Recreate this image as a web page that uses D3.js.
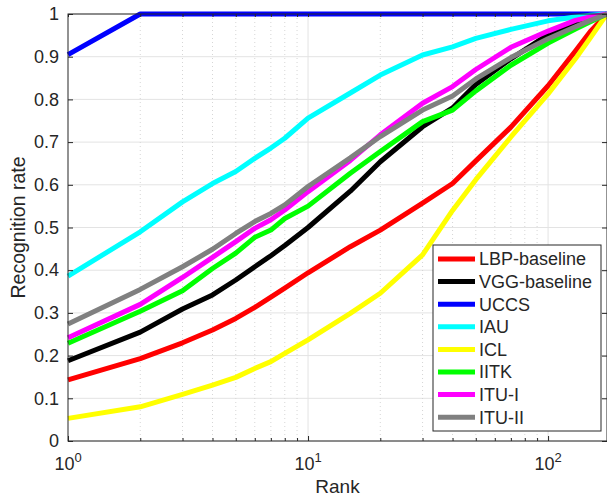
<!DOCTYPE html>
<html>
<head>
<meta charset="utf-8">
<script src="https://cdn.jsdelivr.net/npm/d3@7"></script>
<style>
  body { margin: 0; background: #fff; }
  text { font-family: "Liberation Sans", Arial, Helvetica, sans-serif; fill: #262626; }
</style>
</head>
<body>
<div id="chart"></div>
<script>
var ranks = [1, 2, 3, 4, 5, 6, 7, 8, 10, 15, 20, 30, 40, 50, 70, 100, 130, 150, 176];

var lbpBaseline = [0.143, 0.193, 0.230, 0.260, 0.287, 0.313, 0.337, 0.358, 0.394, 0.455, 0.494, 0.557, 0.603, 0.656, 0.735, 0.832, 0.913, 0.959, 1.0];
var vggBaseline = [0.188, 0.255, 0.309, 0.342, 0.377, 0.408, 0.434, 0.458, 0.500, 0.585, 0.654, 0.736, 0.780, 0.835, 0.895, 0.952, 0.978, 0.990, 1.0];
var uccs        = [0.905, 1.0, 1.0, 1.0, 1.0, 1.0, 1.0, 1.0, 1.0, 1.0, 1.0, 1.0, 1.0, 1.0, 1.0, 1.0, 1.0, 1.0, 1.0];
var iau         = [0.386, 0.490, 0.560, 0.603, 0.631, 0.662, 0.686, 0.709, 0.756, 0.815, 0.857, 0.904, 0.923, 0.943, 0.964, 0.984, 0.993, 0.997, 1.0];
var icl         = [0.053, 0.080, 0.109, 0.131, 0.149, 0.170, 0.186, 0.205, 0.237, 0.299, 0.346, 0.436, 0.540, 0.612, 0.712, 0.813, 0.895, 0.944, 1.0];
var iitk        = [0.229, 0.304, 0.352, 0.404, 0.440, 0.477, 0.494, 0.521, 0.550, 0.627, 0.678, 0.748, 0.775, 0.820, 0.880, 0.932, 0.965, 0.982, 1.0];
var ituI        = [0.242, 0.320, 0.383, 0.430, 0.467, 0.498, 0.518, 0.541, 0.584, 0.657, 0.717, 0.791, 0.830, 0.870, 0.922, 0.960, 0.985, 0.993, 1.0];
var ituII       = [0.274, 0.355, 0.408, 0.449, 0.486, 0.514, 0.533, 0.553, 0.596, 0.663, 0.713, 0.775, 0.808, 0.848, 0.898, 0.942, 0.970, 0.985, 1.0];

var seriesNames = ["LBP-baseline", "VGG-baseline", "UCCS", "IAU", "ICL", "IITK", "ITU-I", "ITU-II"];
var seriesValues = [lbpBaseline, vggBaseline, uccs, iau, icl, iitk, ituI, ituII];
var seriesColors = ["#ff0000", "#000000", "#0000ff", "#00ffff", "#ffff00", "#00ff00", "#ff00ff", "#808080"];

var yTicks = [0, 0.1, 0.2, 0.3, 0.4, 0.5, 0.6, 0.7, 0.8, 0.9, 1];
var xMajorTicks = [1, 10, 100];
var xMinorTicks = [2, 3, 4, 5, 6, 7, 8, 9, 20, 30, 40, 50, 60, 70, 80, 90];

var svgWidth = 607;
var svgHeight = 497;
var margin = { top: 14, bottom: 56, left: 68, right: 0 };
var width = svgWidth - margin.left - margin.right;
var height = svgHeight - margin.top - margin.bottom;

var svg = d3.select("#chart")
  .append("svg")
  .attr("width", svgWidth)
  .attr("height", svgHeight);

var chartGroup = svg.append("g")
  .attr("transform", `translate(${margin.left}, ${margin.top})`);

var xScale = d3.scaleLog().domain([1, 176]).range([0, width]);
var yScale = d3.scaleLinear().domain([0, 1]).range([height, 0]);

// grid
chartGroup.selectAll(".ygrid")
  .data(yTicks)
  .enter()
  .append("line")
  .attr("x1", 0).attr("x2", width)
  .attr("y1", d => yScale(d)).attr("y2", d => yScale(d))
  .attr("stroke", "#e3e3e3").attr("stroke-width", 1);

chartGroup.selectAll(".xminor")
  .data(xMinorTicks)
  .enter()
  .append("line")
  .attr("x1", d => xScale(d)).attr("x2", d => xScale(d))
  .attr("y1", 0).attr("y2", height)
  .attr("stroke", "#d6d6d6").attr("stroke-width", 1)
  .attr("stroke-dasharray", "1,3");

chartGroup.selectAll(".xmajor")
  .data(xMajorTicks.slice(1))
  .enter()
  .append("line")
  .attr("x1", d => xScale(d)).attr("x2", d => xScale(d))
  .attr("y1", 0).attr("y2", height)
  .attr("stroke", "#e3e3e3").attr("stroke-width", 1);

// curves
var line = d3.line()
  .x((d, i) => xScale(ranks[i]))
  .y(d => yScale(d));

chartGroup.selectAll(".curve")
  .data(seriesValues)
  .enter()
  .append("path")
  .attr("d", d => line(d))
  .attr("fill", "none")
  .attr("stroke", (d, i) => seriesColors[i])
  .attr("stroke-width", 5)
  .attr("stroke-linejoin", "round");

// box
chartGroup.append("rect")
  .attr("width", width).attr("height", height)
  .attr("fill", "none").attr("stroke", "#262626").attr("stroke-width", 1);

// axes with inward ticks
var yAxis = d3.axisLeft(yScale).tickValues(yTicks).tickSize(-5).tickPadding(9)
  .tickFormat(d => d3.format("")(d));
var yAxisGroup = chartGroup.append("g").call(yAxis);
yAxisGroup.select(".domain").remove();
yAxisGroup.selectAll("line").attr("stroke", "#262626");
yAxisGroup.selectAll("text").attr("font-size", 18).style("fill", "#262626")
  .attr("font-family", "Liberation Sans, Arial, sans-serif");

var yRight = chartGroup.append("g").attr("transform", `translate(${width}, 0)`)
  .call(d3.axisRight(yScale).tickValues(yTicks).tickSize(-5).tickFormat(""));
yRight.select(".domain").remove();
yRight.selectAll("line").attr("stroke", "#262626");

var xAxisGroup = chartGroup.append("g").attr("transform", `translate(0, ${height})`)
  .call(d3.axisBottom(xScale).tickValues(xMinorTicks).tickSize(-3).tickFormat(""));
xAxisGroup.select(".domain").remove();
xAxisGroup.selectAll("line").attr("stroke", "#262626");

var xMajorGroup = chartGroup.append("g").attr("transform", `translate(0, ${height})`)
  .call(d3.axisBottom(xScale).tickValues(xMajorTicks).tickSize(-5).tickFormat(""));
xMajorGroup.select(".domain").remove();
xMajorGroup.selectAll("line").attr("stroke", "#262626");

var xTop = chartGroup.append("g")
  .call(d3.axisTop(xScale).tickValues(xMinorTicks.concat(xMajorTicks)).tickSize(-3).tickFormat(""));
xTop.select(".domain").remove();
xTop.selectAll("line").attr("stroke", "#262626");

// power-of-ten labels
var xLabels = chartGroup.selectAll(".xlab")
  .data(xMajorTicks)
  .enter()
  .append("text")
  .attr("x", d => xScale(d))
  .attr("y", height + 29)
  .attr("text-anchor", "middle")
  .attr("font-size", 18);
xLabels.append("tspan").text("10");
xLabels.append("tspan").attr("dy", -8).attr("font-size", 13)
  .text(d => Math.round(Math.log10(d)));

// axis titles
chartGroup.append("text")
  .attr("x", width / 2)
  .attr("y", height + 52)
  .attr("text-anchor", "middle")
  .attr("font-size", 19)
  .text("Rank");

chartGroup.append("text")
  .attr("transform", "rotate(-90)")
  .attr("x", -height / 2)
  .attr("y", -margin.left + 25)
  .attr("text-anchor", "middle")
  .attr("font-size", 19.5)
  .text("Recognition rate");

// legend
var legend = svg.append("g").attr("transform", "translate(433, 245)");
legend.append("rect")
  .attr("width", 168).attr("height", 186)
  .attr("fill", "#fff").attr("stroke", "#262626").attr("stroke-width", 1);

var legendItems = legend.selectAll(".item")
  .data(seriesNames)
  .enter()
  .append("g")
  .attr("transform", (d, i) => `translate(0, ${14 + i * 22.6})`);

legendItems.append("line")
  .attr("x1", 5).attr("x2", 42)
  .attr("stroke", (d, i) => seriesColors[i])
  .attr("stroke-width", 5);

legendItems.append("text")
  .attr("x", 46)
  .attr("dy", "0.35em")
  .attr("font-size", 18)
  .text(d => d);
</script>
</body>
</html>
